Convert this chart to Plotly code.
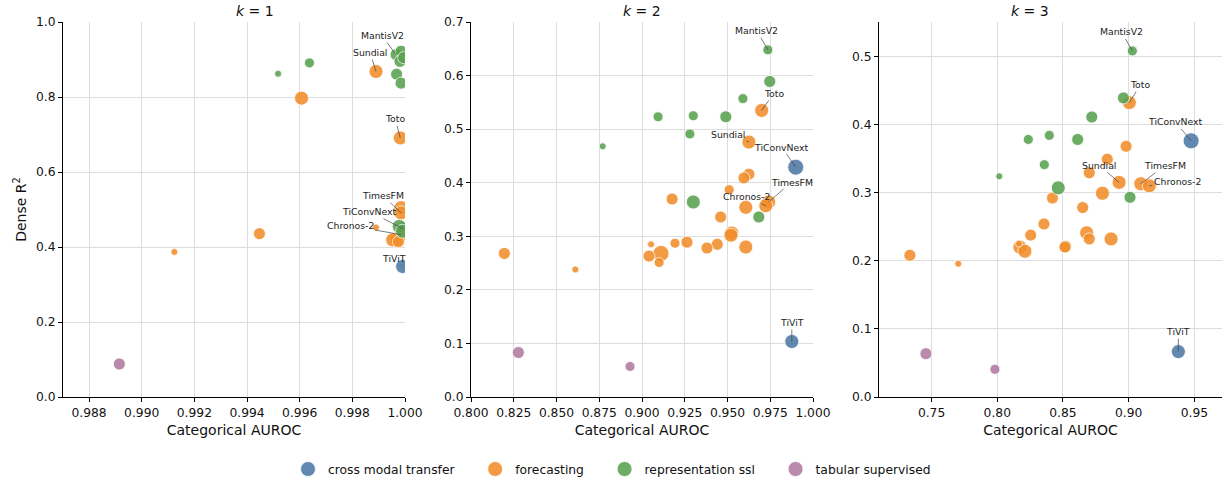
import plotly.graph_objects as go

# ---------------- data ----------------
categories = ["cross modal transfer", "forecasting", "representation ssl", "tabular supervised"]
colors = {"cross modal transfer": "#4E79A7", "forecasting": "#F28E2B",
          "representation ssl": "#59A14F", "tabular supervised": "#B07AA1"}

# k = 1 : (categorical AUROC, dense R2, model scale 1-5, label)
k1_cross_x = [0.99992, 0.99991]
k1_cross_y = [0.449, 0.348]
k1_cross_s = [4, 4]
k1_cross_lab = ["TiConvNext", "TiViT"]

k1_fore_x = [0.99124, 0.99447, 0.99607, 0.99890, 0.99982, 0.99985, 0.99985, 0.99985, 0.99890, 0.99966, 0.99953, 0.99975]
k1_fore_y = [0.387, 0.4355, 0.797, 0.868, 0.691, 0.505, 0.491, 0.433, 0.452, 0.421, 0.419, 0.414]
k1_fore_s = [1, 3, 4, 4, 4, 4, 4, 4, 1, 4, 4, 3]
k1_fore_lab = ["", "", "", "Sundial", "Toto", "", "TimesFM", "Chronos-2", "", "", "", ""]

k1_repr_x = [0.99518, 0.99637, 0.99966, 0.99985, 0.99981, 0.99968, 0.99985, 0.99978, 0.99991, 0.99995]
k1_repr_y = [0.862, 0.891, 0.913, 0.922, 0.895, 0.861, 0.837, 0.455, 0.442, 0.905]
k1_repr_s = [1, 2, 3, 3, 3, 3, 3, 4, 4, 3]
k1_repr_lab = ["", "", "MantisV2", "", "", "", "", "", "", ""]

k1_tab_x = [0.98915]
k1_tab_y = [0.088]
k1_tab_s = [3]
k1_tab_lab = [""]

# k = 2
k2_cross_x = [0.9899, 0.9876]
k2_cross_y = [0.429, 0.1036]
k2_cross_s = [5, 4]
k2_cross_lab = ["TiConvNext", "TiViT"]

k2_fore_x = [0.9700, 0.9625, 0.9625, 0.9596, 0.9510, 0.9176, 0.9607, 0.9741, 0.9724, 0.9460,
             0.9525, 0.9520, 0.9607, 0.9440, 0.9380, 0.9263, 0.9193, 0.9053, 0.9111, 0.9041,
             0.9100, 0.8195, 0.8610]
k2_fore_y = [0.535, 0.476, 0.416, 0.409, 0.387, 0.3695, 0.354, 0.364, 0.357, 0.336,
             0.306, 0.302, 0.280, 0.285, 0.278, 0.289, 0.287, 0.285, 0.268, 0.263,
             0.251, 0.268, 0.238]
k2_fore_s = [4, 4, 3, 3, 2, 3, 4, 4, 4, 3,
             4, 4, 4, 3, 3, 3, 2, 1, 5, 3,
             2, 3, 1]
k2_fore_lab = ["Toto", "Sundial", "", "", "", "", "", "TimesFM", "Chronos-2", "",
               "", "", "", "", "", "", "", "", "", "",
               "", "", ""]

k2_repr_x = [0.9736, 0.9747, 0.9590, 0.9094, 0.9300, 0.9490, 0.9280, 0.8770, 0.9300, 0.9683]
k2_repr_y = [0.648, 0.589, 0.557, 0.523, 0.525, 0.523, 0.491, 0.468, 0.364, 0.336]
k2_repr_s = [2, 3, 2, 2, 2, 3, 2, 1, 4, 3]
k2_repr_lab = ["MantisV2", "", "", "", "", "", "", "", "", ""]

k2_tab_x = [0.8277, 0.8930]
k2_tab_y = [0.083, 0.057]
k2_tab_s = [3, 2]
k2_tab_lab = ["", ""]

# k = 3
k3_cross_x = [0.9475, 0.9378]
k3_cross_y = [0.376, 0.0666]
k3_cross_s = [5, 4]
k3_cross_lab = ["TiConvNext", "TiViT"]

k3_fore_x = [0.9005, 0.8980, 0.8837, 0.8700, 0.8927, 0.9092, 0.9157, 0.8800, 0.8420, 0.8650,
             0.8355, 0.8680, 0.8700, 0.8866, 0.8254, 0.8520, 0.8515, 0.8172, 0.8210, 0.8165,
             0.7335, 0.7703]
k3_fore_y = [0.432, 0.368, 0.349, 0.329, 0.315, 0.313, 0.310, 0.299, 0.292, 0.278,
             0.254, 0.241, 0.232, 0.232, 0.2376, 0.2214, 0.2200, 0.220, 0.214, 0.225,
             0.208, 0.1956]
k3_fore_s = [4, 3, 3, 3, 4, 4, 4, 4, 3, 3,
             3, 4, 3, 4, 3, 3, 3, 4, 4, 1,
             3, 1]
k3_fore_lab = ["Toto", "", "", "", "Sundial", "TimesFM", "Chronos-2", "", "", "",
               "", "", "", "", "", "", "", "", "", "",
               "", ""]

k3_repr_x = [0.9028, 0.8960, 0.8719, 0.8236, 0.8396, 0.8612, 0.8358, 0.8015, 0.8464, 0.9010]
k3_repr_y = [0.508, 0.439, 0.411, 0.378, 0.384, 0.378, 0.341, 0.324, 0.307, 0.293]
k3_repr_s = [2, 3, 3, 2, 2, 3, 2, 1, 4, 3]
k3_repr_lab = ["MantisV2", "", "", "", "", "", "", "", "", ""]

k3_tab_x = [0.7457, 0.7982]
k3_tab_y = [0.0636, 0.0406]
k3_tab_s = [3, 2]
k3_tab_lab = ["", ""]

panels = [
    {"title": "1", "data": {
        "cross modal transfer": (k1_cross_x, k1_cross_y, k1_cross_s, k1_cross_lab),
        "forecasting": (k1_fore_x, k1_fore_y, k1_fore_s, k1_fore_lab),
        "representation ssl": (k1_repr_x, k1_repr_y, k1_repr_s, k1_repr_lab),
        "tabular supervised": (k1_tab_x, k1_tab_y, k1_tab_s, k1_tab_lab)}},
    {"title": "2", "data": {
        "cross modal transfer": (k2_cross_x, k2_cross_y, k2_cross_s, k2_cross_lab),
        "forecasting": (k2_fore_x, k2_fore_y, k2_fore_s, k2_fore_lab),
        "representation ssl": (k2_repr_x, k2_repr_y, k2_repr_s, k2_repr_lab),
        "tabular supervised": (k2_tab_x, k2_tab_y, k2_tab_s, k2_tab_lab)}},
    {"title": "3", "data": {
        "cross modal transfer": (k3_cross_x, k3_cross_y, k3_cross_s, k3_cross_lab),
        "forecasting": (k3_fore_x, k3_fore_y, k3_fore_s, k3_fore_lab),
        "representation ssl": (k3_repr_x, k3_repr_y, k3_repr_s, k3_repr_lab),
        "tabular supervised": (k3_tab_x, k3_tab_y, k3_tab_s, k3_tab_lab)}},
]

# label text offsets (pixels, text centre relative to point) per panel
label_offsets = [
    {"MantisV2": (-14, -19), "Sundial": (-6, -19), "Toto": (-5, -19), "TimesFM": (-18, -17),
     "TiConvNext": (-33, -17), "Chronos-2": (-51, -9), "TiViT": (-9, -8)},
    {"MantisV2": (-11, -19), "Toto": (12, -17), "Sundial": (-21, -8), "TiConvNext": (-14, -20),
     "TimesFM": (23, -20), "Chronos-2": (-19, -9), "TiViT": (0, -19)},
    {"MantisV2": (-11, -19), "Toto": (11, -18), "TiConvNext": (-16, -19), "Sundial": (-20, -17),
     "TimesFM": (24, -18), "Chronos-2": (28, -4), "TiViT": (0, -20)},
]

x_ranges = [[0.98701, 1.0], [0.8, 1.0], [0.710, 0.971]]
y_ranges = [[0, 1.0], [0, 0.7], [0, 0.5504]]
x_ticks = [[0.988, 0.990, 0.992, 0.994, 0.996, 0.998, 1.000],
           [0.800, 0.825, 0.850, 0.875, 0.900, 0.925, 0.950, 0.975, 1.000],
           [0.75, 0.80, 0.85, 0.90, 0.95]]
x_fmt = [".3f", ".3f", ".2f"]
y_ticks = [[0, 0.2, 0.4, 0.6, 0.8, 1.0],
           [0, 0.1, 0.2, 0.3, 0.4, 0.5, 0.6, 0.7],
           [0, 0.1, 0.2, 0.3, 0.4, 0.5]]

diam = {1: 7, 2: 10, 3: 12, 4: 14, 5: 16}

W, H = 1228, 487
ML, MR, MT, MB = 63, 6, 22, 90
pw = W - ML - MR
ph = H - MT - MB
px_domains = [(63, 405), (471, 813), (879, 1222)]
domains = [[(a - ML) / pw, (b - ML) / pw] for a, b in px_domains]

FONT = "DejaVu Sans"
NB = "\u00a0"
fig = go.Figure()
annotations = []

for i, p in enumerate(panels):
    xa = "x" if i == 0 else f"x{i+1}"
    ya = "y" if i == 0 else f"y{i+1}"
    for cat in categories:
        xs, ys, ss, labs = p["data"][cat]
        fig.add_trace(go.Scatter(
            x=xs, y=ys, mode="markers", xaxis=xa, yaxis=ya, showlegend=False,
            marker=dict(size=[diam[s] for s in ss], color=colors[cat], opacity=0.88,
                        line=dict(color="white", width=0.8)),
            cliponaxis=True, hoverinfo="skip"))
        for x, y, lab in zip(xs, ys, labs):
            if lab:
                ax, ay = label_offsets[i][lab]
                annotations.append(dict(
                    x=x, y=y, xref=xa, yref=ya, text=lab, showarrow=True,
                    arrowhead=0, arrowwidth=0.7, arrowcolor="#444444", ax=ax, ay=ay,
                    font=dict(family=FONT, size=9.3, color="#222222"), standoff=0))
    annotations.append(dict(
        x=(domains[i][0] + domains[i][1]) / 2, y=1, xref="paper", yref="paper",
        yanchor="bottom", yshift=1, showarrow=False,
        text=f"<i>k</i> = {p['title']}", font=dict(family=FONT, size=14, color="#111111")))

# legend-only traces
for cat in categories:
    fig.add_trace(go.Scatter(x=[None], y=[None], mode="markers", name=cat + NB * 4,
                             marker=dict(size=15, color=colors[cat], opacity=0.88,
                                         line=dict(color="white", width=0.8))))

axis_common = dict(showline=True, linecolor="black", linewidth=1, ticks="outside",
                   ticklen=4, tickwidth=1, tickcolor="black", showgrid=True,
                   gridcolor="#dddddd", gridwidth=0.8, zeroline=False, automargin=False,
                   tickfont=dict(family=FONT, size=12.3, color="#111111"))

legend_y = -(469 - (MT + ph)) / ph
legend_x = (620 - ML) / pw

layout = dict(width=W, height=H, margin=dict(l=ML, r=MR, t=MT, b=MB, autoexpand=False),
              plot_bgcolor="white", paper_bgcolor="white",
              font=dict(family=FONT, color="#111111"),
              annotations=annotations,
              legend=dict(orientation="h", x=legend_x, xanchor="center", y=legend_y,
                          yanchor="middle", font=dict(family=FONT, size=12.3),
                          itemsizing="trace"))
for i in range(3):
    xk = "xaxis" if i == 0 else f"xaxis{i+1}"
    yk = "yaxis" if i == 0 else f"yaxis{i+1}"
    ya = "y" if i == 0 else f"y{i+1}"
    xa = "x" if i == 0 else f"x{i+1}"
    layout[xk] = dict(axis_common, domain=domains[i], range=x_ranges[i], anchor=ya,
                      tickvals=x_ticks[i], tickformat=x_fmt[i],
                      title=dict(text="Categorical AUROC", standoff=6,
                                 font=dict(family=FONT, size=14)))
    ydict = dict(axis_common, domain=[0, 1], range=y_ranges[i], anchor=xa,
                 tickvals=y_ticks[i], tickformat=".1f")
    if i == 0:
        ydict["title"] = dict(text="Dense R<sup>2</sup>", standoff=6,
                              font=dict(family=FONT, size=14))
    layout[yk] = ydict

fig.update_layout(**layout)
# remove the default page margin so the figure fills the window exactly
fig.write_html("out.html", config={"displayModeBar": False},
               post_script="document.body.style.margin='0';document.body.style.overflow='hidden';")
